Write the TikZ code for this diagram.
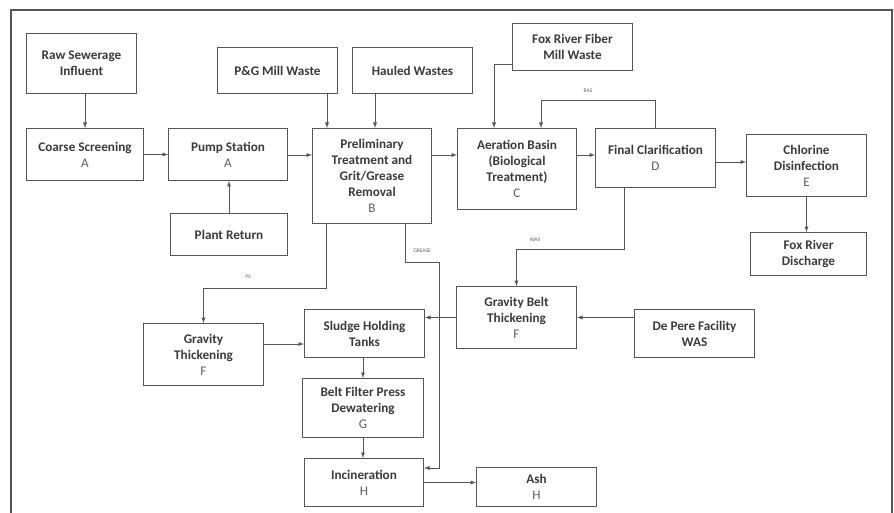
\documentclass[tikz,border=0pt]{standalone}
\usepackage{fontspec}
\setmainfont{Carlito}
\usepackage{tikz}
\usetikzlibrary{arrows,calc,positioning}
\definecolor{inkgray}{HTML}{3A3A3A}
\definecolor{linegray}{HTML}{555555}
\definecolor{idgray}{HTML}{5E5E5E}
\tikzstyle{unit}  =[rectangle, draw=linegray, line width=1pt,
                    inner sep=2pt, align=center, anchor=north west,
                    text=inkgray, font=\fontsize{13.2}{16}\selectfont\bfseries]
\tikzstyle{flow}  =[draw=linegray, line width=0.9pt, ->, >=latex]
\tikzstyle{tag}   =[inner sep=1pt, text=idgray,
                    font=\fontsize{5.5}{6}\selectfont]
\tikzstyle{frame} =[draw=linegray, line width=1.4pt]
\newcommand{\unitref}[1]{{\mdseries\color{idgray}#1}}

\begin{document}
\begin{tikzpicture}[x=1pt, y=-1pt]
    \useasboundingbox (0,0) rectangle (894,513);
    \draw[frame] (11,513) -- (11,10) -- (892,10) -- (892,513);

    \node[unit, minimum width=110, minimum height=60] (raw) at (26,33)
        {Raw Sewerage\\Influent};
    \node[unit, minimum width=117, minimum height=52] (cs) at (26,128)
        {Coarse Screening\\\unitref{A}};
    \node[unit, minimum width=119, minimum height=52] (pump) at (168,128)
        {Pump Station\\\unitref{A}};
    \node[unit, minimum width=117, minimum height=42] (ret) at (170,213)
        {Plant Return};
    \node[unit, minimum width=120, minimum height=46] (pg) at (217,47)
        {P\&G Mill Waste};
    \node[unit, minimum width=120, minimum height=46] (haul) at (352,47)
        {Hauled Wastes};
    \node[unit, minimum width=119, minimum height=95] (prelim) at (312,128)
        {Preliminary\\Treatment and\\Grit/Grease\\Removal\\\unitref{B}};
    \node[unit, minimum width=120, minimum height=47] (fox) at (512,23)
        {Fox River Fiber\\Mill Waste};
    \node[unit, minimum width=119, minimum height=81] (aer) at (457,128)
        {Aeration Basin\\(Biological\\Treatment)\\\unitref{C}};
    \node[unit, minimum width=120, minimum height=59] (fin) at (595,128)
        {Final Clarification\\\unitref{D}};
    \node[unit, minimum width=120, minimum height=62] (chl) at (746,134)
        {Chlorine\\Disinfection\\\unitref{E}};
    \node[unit, minimum width=116, minimum height=43] (dis) at (750,232)
        {Fox River\\Discharge};
    \node[unit, minimum width=120, minimum height=62] (gbt) at (456,286)
        {Gravity Belt\\Thickening\\\unitref{F}};
    \node[unit, minimum width=120, minimum height=48] (dep) at (634,309)
        {De Pere Facility\\WAS};
    \node[unit, minimum width=120, minimum height=62] (gth) at (143,323)
        {Gravity\\Thickening\\\unitref{F}};
    \node[unit, minimum width=120, minimum height=48] (sht) at (304,309)
        {Sludge Holding\\Tanks};
    \node[unit, minimum width=121, minimum height=59] (bfp) at (302,378)
        {Belt Filter Press\\Dewatering\\\unitref{G}};
    \node[unit, minimum width=119, minimum height=48] (inc) at (304,458)
        {Incineration\\\unitref{H}};
    \node[unit, minimum width=120, minimum height=39] (ash) at (476,467)
        {Ash\\\unitref{H}};

    \coordinate (axis) at (0,155);
    \coordinate (pgout) at ($(pg.south east)+(-11,0)$);
    \coordinate (haulout) at ($(haul.south west)+(23,0)$);
    \coordinate (foxout) at ($(fox.south west)+(0,-7)$);
    \coordinate (aerin) at ($(aer.north west)+(37,0)$);
    \coordinate (rasin) at ($(aer.north west)+(84,0)$);
    \coordinate (finout) at ($(fin.south east)+(0,-26)$);
    \coordinate (wasout) at ($(fin.south west)+(29,0)$);
    \coordinate (psout) at ($(prelim.south west)+(14,0)$);
    \coordinate (grout) at ($(prelim.south west)+(93,0)$);
    \coordinate (grin) at ($(inc.north east)+(0,10)$);
    \coordinate (gthout) at ($(gth.north east)+(0,21)$);

    \draw[flow] (raw.south -| cs.north) -- (cs.north);
    \draw[flow] (cs.east) -- (cs.east -| pump.west);
    \draw[flow] (ret.north) -- (ret.north |- pump.south);
    \draw[flow] (pump.east |- axis) -- (prelim.west |- axis);
    \draw[flow] (pgout) -- (pgout |- prelim.north);
    \draw[flow] (haulout) -- (haulout |- prelim.north);
    \draw[flow] (prelim.east |- axis) -- (aer.west |- axis);
    \draw[flow] (foxout) -| (aerin);
    \draw[flow] (aer.east |- axis) -- (fin.west |- axis);
    \draw[flow] (fin.north) -- ++(0,-28) -| (rasin);
    \draw[flow] (finout) -- (finout -| chl.west);
    \draw[flow] (chl.south) -- (chl.south |- dis.north);
    \draw[flow] (wasout) -- ++(0,61) -| (gbt.north);
    \draw[flow] (gbt.east -| dep.west) -- (gbt.east);
    \draw[flow] (gbt.west) -- (gbt.west -| sht.east);
    \draw[flow] (psout) -- ++(0,64) -| (gth.north);
    \draw[flow] (grout) -- ++(0,38) -- ++(34,0) |- (grin);
    \draw[flow] (gthout) -- (gthout -| sht.west);
    \draw[flow] (bfp.north |- sht.south) -- (bfp.north);
    \draw[flow] (bfp.south) -- (bfp.south |- inc.north);
    \draw[flow] (inc.east) -- (inc.east -| ash.west);

    \node[tag] (ras) at (588,91) {RAS};
    \node[tag] (was) at (535,240) {WAS};
    \node[tag] (ps) at (248,277) {PS};
    \node[tag] (grease) at (422,251) {GREASE};
\end{tikzpicture}
\end{document}
